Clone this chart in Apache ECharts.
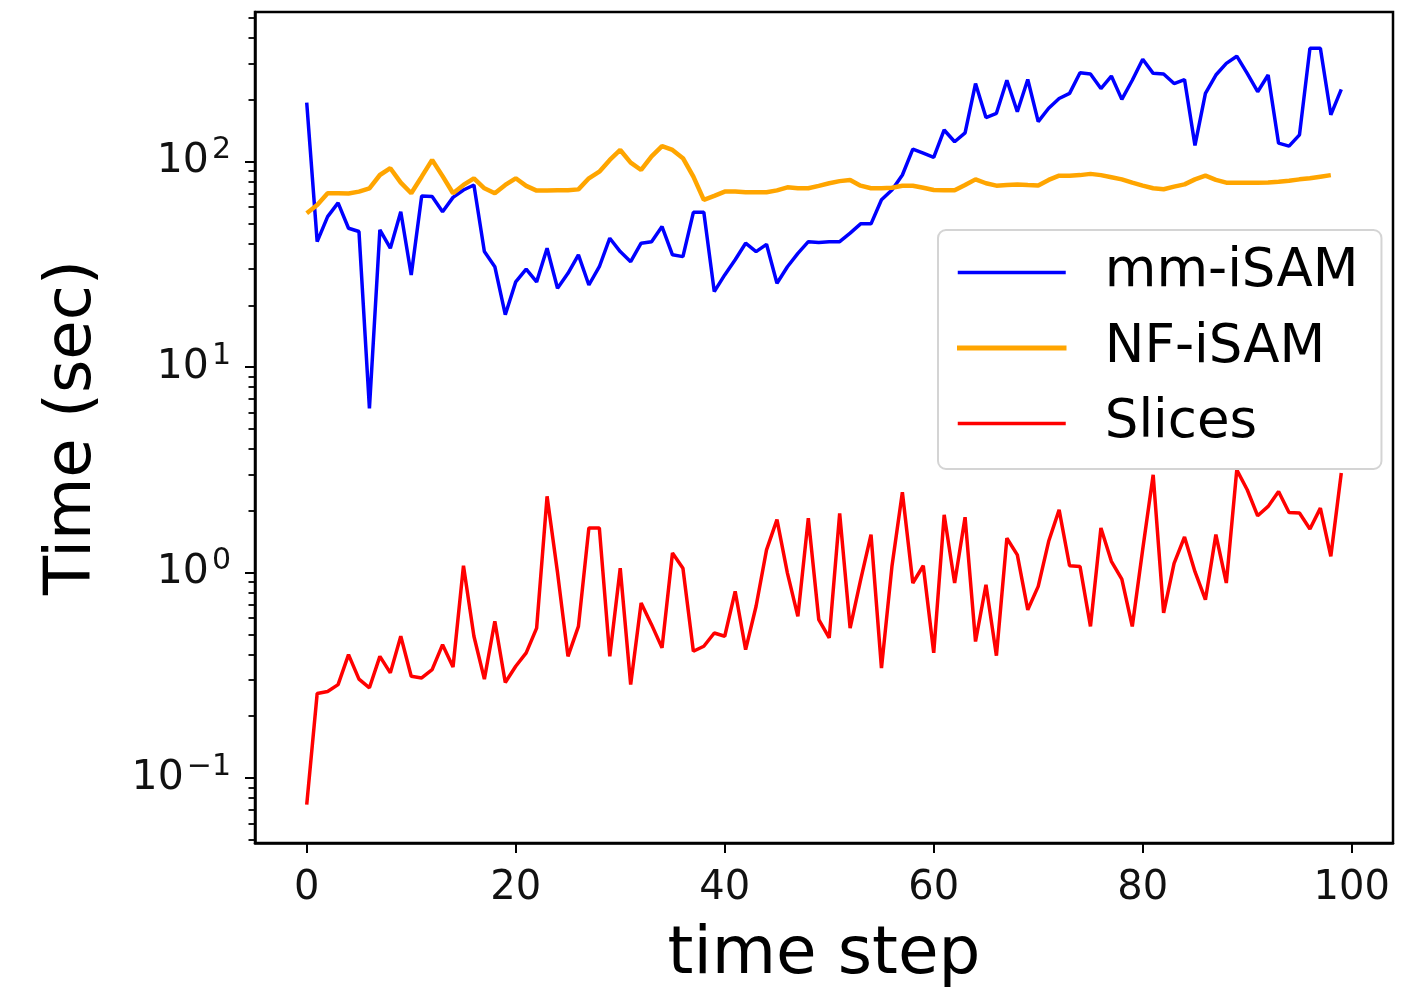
<!DOCTYPE html>
<html>
<head>
<meta charset="utf-8">
<title>Time per step</title>
<script src="https://cdn.jsdelivr.net/npm/echarts@6/dist/echarts.min.js"></script>
<style>
  html, body { margin: 0; padding: 0; background: #fff; }
  #chart { width: 1405px; height: 989px; }
</style>
</head>
<body>
<div id="chart"></div>
<script>
// Runtime (seconds) of each solver per time step
const steps = Array.from({ length: 100 }, (_, i) => i);

const mmISAM = [
  194, 40.8, 54, 63, 47.4, 45.7, 6.3, 46.6, 37.9, 57,
  28.1, 68, 67.6, 57, 67, 72.8, 77, 36.5, 30.8, 18.0,
  26, 30, 26, 37.9, 24.2, 28.6, 35.2, 25.1, 30.8, 42.4,
  36.5, 32.6, 40.1, 40.8, 48.3, 35.2, 34.5, 56.7, 56.7, 23.3,
  28.1, 33.3, 40.1, 36.5, 39.6, 25.6, 30.8, 35.8, 40.8, 40.4,
  40.8, 40.8, 44.9, 49.8, 49.8, 65.2, 72.8, 86.1, 115, 110,
  105, 142.6, 125, 138, 240, 164, 172, 249, 175, 251,
  156.6, 182, 203, 215, 271, 267, 227, 261, 201, 249,
  315, 269, 267, 240, 251, 120, 215, 264, 301, 326,
  269, 219, 264, 123, 119, 135, 356, 356, 169, 225
];

const nfISAM = [
  56.1, 61.5, 70.2, 70.2, 70, 71.5, 74.2, 86.1, 92.9, 79,
  70.2, 84.5, 102, 85, 70.2, 77, 83, 74.2, 70.2, 77,
  83, 76.2, 72.3, 72.3, 72.5, 72.5, 73.3, 83, 89.4, 102,
  114, 98.9, 91.1, 106, 119, 114, 104, 84.5, 65.2, 68.1,
  71.5, 71.5, 71, 71, 71, 72.5, 75, 74.2, 74.2, 76.2,
  78.5, 80.4, 81.5, 76.4, 74.2, 74.2, 74.7, 76.4, 76.4, 74.7,
  72.8, 72.5, 72.5, 77, 82, 78.5, 76.4, 77, 77.5, 77,
  76.6, 81.5, 85.5, 85.5, 86, 87.2, 86, 84, 82, 79,
  76.4, 74.2, 73.4, 75.6, 77.5, 82, 85.5, 81.5, 79, 79,
  79, 79, 79.2, 79.9, 80.8, 82, 83, 84.5, 86
];

const slices = [
  0.0743, 0.258, 0.264, 0.285, 0.399, 0.303, 0.275, 0.391, 0.325, 0.49,
  0.313, 0.307, 0.337, 0.446, 0.347, 1.08, 0.49, 0.303, 0.58, 0.292,
  0.35, 0.407, 0.537, 2.35, 1.0, 0.391, 0.547, 1.65, 1.65, 0.391,
  1.05, 0.285, 0.711, 0.558, 0.43, 1.245, 1.05, 0.414, 0.438, 0.508,
  0.49, 0.811, 0.422, 0.686, 1.29, 1.81, 0.995, 0.612, 1.84, 0.591,
  0.481, 1.94, 0.537, 0.92, 1.53, 0.343, 1.07, 2.46, 0.89, 1.08,
  0.407, 1.91, 0.89, 1.86, 0.462, 0.873, 0.394, 1.47, 1.22, 0.659,
  0.857, 1.42, 2.02, 1.08, 1.07, 0.547, 1.65, 1.135, 0.93, 0.547,
  1.3, 2.99, 0.636, 1.11, 1.49, 1.01, 0.738, 1.53, 0.89, 3.16,
  2.53, 1.89, 2.1, 2.48, 1.96, 1.95, 1.63, 2.06, 1.2, 3.05
];

const xTickValues = [0, 20, 40, 60, 80, 100];
const yMajorTicks = [0.1, 1, 10, 100];
const yMinorTicks = [
  0.05, 0.06, 0.07, 0.08, 0.09,
  0.2, 0.3, 0.4, 0.5, 0.6, 0.7, 0.8, 0.9,
  2, 3, 4, 5, 6, 7, 8, 9,
  20, 30, 40, 50, 60, 70, 80, 90,
  200, 300, 400, 500
];

const FONT = 'DejaVu Sans';
const BLUE = '#0000ff', ORANGE = '#ffa500', RED = '#ff0000';
const pairs = (ys) => ys.map((v, i) => [steps[i], v]);

const chart = echarts.init(document.getElementById('chart'), null, { renderer: 'canvas' });

chart.setOption({
  backgroundColor: '#ffffff',
  animation: false,
  textStyle: { fontFamily: FONT },
  grid: {
    left: 255, right: 12, top: 12, bottom: 146,
    outerBoundsMode: 'none',
    show: true, borderColor: '#000', borderWidth: 2.5, backgroundColor: 'transparent'
  },
  legend: {
    orient: 'vertical',
    left: 938, top: 230,
    itemWidth: 108, itemHeight: 3.5, itemGap: 22.5,
    padding: [16, 23, 19, 19],
    backgroundColor: 'rgba(255,255,255,0.85)',
    borderColor: '#d4d4d4', borderWidth: 2, borderRadius: 8,
    textStyle: { fontFamily: FONT, fontSize: 53, lineHeight: 52, color: '#000', padding: [0, 0, 0, 34] },
    data: [
      { name: 'mm-iSAM', icon: 'rect', itemStyle: { color: BLUE, borderWidth: 0 } },
      { name: 'NF-iSAM', icon: 'rect', itemStyle: { color: ORANGE, borderColor: ORANGE, borderWidth: 1.5 } },
      { name: 'Slices', icon: 'rect', itemStyle: { color: RED, borderWidth: 0 } }
    ]
  },
  xAxis: {
    type: 'value',
    min: -4.95, max: 103.95,
    name: 'time step', nameLocation: 'middle', nameGap: 80,
    nameTextStyle: { fontFamily: FONT, fontSize: 66, color: '#000' },
    axisLine: { show: true, onZero: false, lineStyle: { color: '#000', width: 2.5 } },
    axisTick: { show: true, customValues: xTickValues, length: 10, lineStyle: { color: '#000', width: 2 } },
    axisLabel: { customValues: xTickValues, fontFamily: FONT, fontSize: 40, color: '#111', margin: 26 },
    splitLine: { show: false }
  },
  yAxis: [
    {
      type: 'log', logBase: 10,
      min: 0.0483, max: 535,
      name: 'Time (sec)', nameLocation: 'middle', nameGap: 150,
      nameTextStyle: { fontFamily: FONT, fontSize: 64, color: '#000' },
      axisLine: { show: true, onZero: false, lineStyle: { color: '#000', width: 2.5 } },
      axisTick: { show: true, customValues: yMajorTicks, length: 10, lineStyle: { color: '#000', width: 2 } },
      axisLabel: {
        customValues: yMajorTicks,
        margin: 24,
        formatter: (v) => {
          const e = Math.round(Math.log10(v));
          return '{b|10}{s|' + (e < 0 ? '\u2212' + (-e) : String(e)) + '}';
        },
        rich: {
          b: { fontFamily: FONT, fontSize: 41, color: '#111', lineHeight: 41 },
          s: { fontFamily: FONT, fontSize: 30, color: '#111', padding: [0, 0, 22, 3] }
        }
      },
      splitLine: { show: false }
    },
    {
      type: 'log', logBase: 10,
      min: 0.0483, max: 535,
      position: 'left',
      axisLine: { show: false, onZero: false },
      axisTick: { show: true, customValues: yMinorTicks, length: 6.5, lineStyle: { color: '#000', width: 1.8 } },
      axisLabel: { show: false },
      splitLine: { show: false }
    }
  ],
  series: [
    {
      name: 'mm-iSAM', type: 'line', data: pairs(mmISAM),
      symbol: 'none', showSymbol: false,
      lineStyle: { color: BLUE, width: 3.5 }, itemStyle: { color: BLUE }
    },
    {
      name: 'NF-iSAM', type: 'line', data: pairs(nfISAM),
      symbol: 'none', showSymbol: false,
      lineStyle: { color: ORANGE, width: 4.5 }, itemStyle: { color: ORANGE }
    },
    {
      name: 'Slices', type: 'line', data: pairs(slices),
      symbol: 'none', showSymbol: false,
      lineStyle: { color: RED, width: 3.5 }, itemStyle: { color: RED }
    }
  ]
});
</script>
</body>
</html>
